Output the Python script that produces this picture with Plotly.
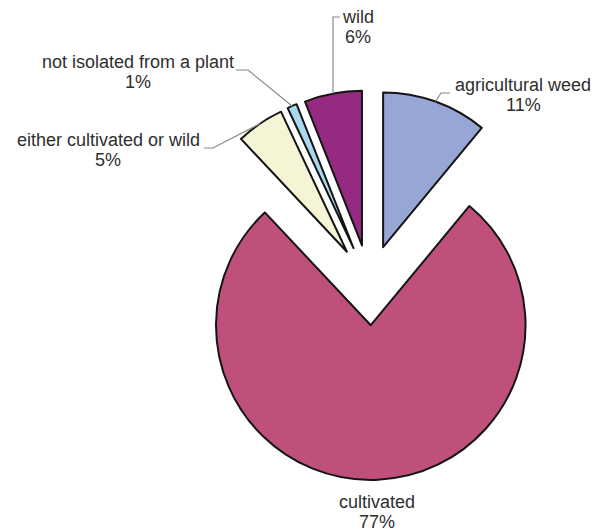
import math
import plotly.graph_objects as go

categories = ["agricultural weed", "cultivated", "either cultivated or wild",
              "not isolated from a plant", "wild"]
values = [11, 77, 5, 1, 6]
colors = ["#98a6d6", "#bf507c", "#f5f5d6", "#a9d9ec", "#952a80"]

# label placement (pixel positions of the label centres) and leader elbows
label_pos = {
    "agricultural weed": (523, 85),
    "cultivated": (377, 502),
    "either cultivated or wild": (108, 140),
    "not isolated from a plant": (138, 62),
    "wild": (358, 17),
}
leader = {  # elbow point and end point next to the text
    "agricultural weed": [(441, 93), (450, 93)],
    "either cultivated or wild": [(213, 148), (204, 148)],
    "not isolated from a plant": [(248, 70), (236, 70)],
    "wild": [(333, 17), (340, 17)],
}

W, H = 604, 531
PULL = 0.26
CX, CY = 369.5, 285.0
DOM = 390.0
R = DOM / 2 / (1 + PULL)


def px(x):
    return x / W


def py(y):
    return 1 - y / H


fig = go.Figure(go.Pie(
    labels=categories,
    values=values,
    sort=False,
    direction="clockwise",
    rotation=0,
    pull=[PULL] * len(values),
    marker=dict(colors=colors, line=dict(color="#141414", width=2)),
    textposition="none",
    domain=dict(x=[px(CX - DOM / 2), px(CX + DOM / 2)],
                y=[py(CY + DOM / 2), py(CY - DOM / 2)]),
    showlegend=False,
    hoverinfo="label+percent",
))

font = dict(family="Liberation Sans, Arial, sans-serif", size=18, color="#2e2e2e")
total = sum(values)
annotations = []
shapes = []
cum = 0.0
for cat, v in zip(categories, values):
    mid = (cum + v / 2) / total * 2 * math.pi  # clockwise from 12 o'clock
    cum += v
    lx, ly = label_pos[cat]
    annotations.append(dict(x=px(lx), y=py(ly), xref="paper", yref="paper",
                            text=cat, showarrow=False, font=font,
                            xanchor="center", yanchor="middle"))
    annotations.append(dict(x=px(lx), y=py(ly + 20), xref="paper", yref="paper",
                            text=f"{v / total * 100:.0f}%", showarrow=False, font=font,
                            xanchor="center", yanchor="middle"))
    if cat in leader:
        # attach point on the outer arc at the slice's mid angle
        ax = CX + (PULL * R + R) * math.sin(mid)
        ay = CY - (PULL * R + R) * math.cos(mid)
        (ex, ey), (tx, ty) = leader[cat]
        path = f"M {px(ax)} {py(ay)} L {px(ex)} {py(ey)} L {px(tx)} {py(ty)}"
        shapes.append(dict(type="path", path=path, xref="paper", yref="paper",
                           line=dict(color="#8a8a8a", width=1.2)))

fig.update_layout(
    width=W, height=H,
    margin=dict(l=0, r=0, t=0, b=0),
    paper_bgcolor="white",
    plot_bgcolor="white",
    annotations=annotations,
    shapes=shapes,
)

fig.write_html("out.html")
